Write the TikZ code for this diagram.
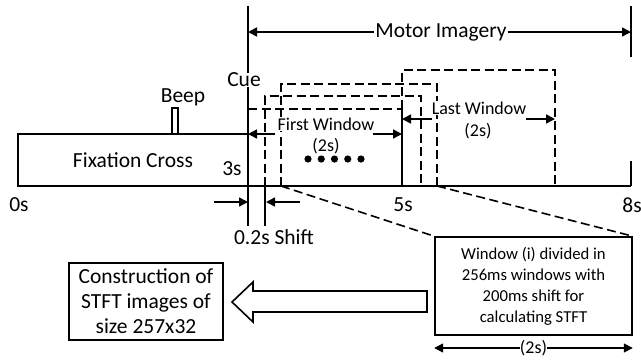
\documentclass[tikz,border=0pt]{standalone}
\usepackage{fontspec}
\setmainfont{Carlito}
\usetikzlibrary{arrows.meta}
\tikzset{
  edge/.style={line width=1.6pt},
  win/.style={line width=1.6pt, dash pattern=on 9pt off 4.5pt},
  flow/.style={-{Triangle[length=9pt, width=9pt]}, line width=1.6pt},
  big/.style={font=\fontsize{21.5}{25}\selectfont, inner sep=1pt},
  small/.style={font=\fontsize{18}{21}\selectfont, inner sep=1pt, fill=white},
  box/.style={draw, line width=1.6pt, align=center, inner sep=0pt},
}

\begin{document}
\begin{tikzpicture}[x=1pt, y=-1pt]
    \useasboundingbox (0,0) rectangle (641,360);
    \coordinate (cueTop) at (248,6);
    \coordinate (cueEnd) at (248,226);
    \coordinate (shiftTop) at (265,186);
    \coordinate (shiftEnd) at (265,226);
    \coordinate (start) at (18,186);
    \coordinate (stop) at (631,186);
    \coordinate (miL) at (248,32);
    \coordinate (miR) at (631,32);
    \coordinate (endTop) at (631,6);
    \coordinate (endMid) at (631,57);
    \coordinate (endLow) at (631,161);
    \coordinate (fwL) at (248,134);
    \coordinate (fwR) at (402,134);
    \coordinate (lwL) at (402,119);
    \coordinate (lwR) at (555,119);
    \coordinate (shL) at (248,202);
    \coordinate (shR) at (266,202);
    \coordinate (w3L) at (281,186);
    \coordinate (w3R) at (437,186);
    \coordinate (tip) at (232,302);
    \draw[edge] (cueTop) -- (cueEnd);
    \draw[edge] (shiftTop) -- (shiftEnd);
    \draw[edge] (start) -- (stop);
    \draw[edge] (endTop) -- (endMid);
    \draw[edge] (endLow) -- (stop);
    \draw[win] (248,109) -- (402,109);
    \draw[edge] (402,109) -- (402,186);
    \draw[win] (shiftTop) -- (265,96) -- (421,96) -- (421,186);
    \draw[win] (w3L) -- (281,84) -- (437,84) -- (w3R);
    \draw[win] (402,109) -- (402,70) -- (555,70) -- (555,186);
    \node[box, minimum width=230pt, minimum height=52pt, big] (fix) at (133,160) {Fixation Cross};
    \node[box, minimum width=6pt, minimum height=26pt] (beepbar) at (175,121) {};
    \node[big] (beep) at (183,97) {Beep};
    \node[big, fill=white, inner sep=0pt] (cue) at (244,80) {Cue};
    \node[big] (three) at (232,169) {3s};
    \node[big] (zero) at (19,205) {0s};
    \node[big] (five) at (403,205) {5s};
    \node[big] (eight) at (632,205) {8s};
    \node[big, fill=white] (mi) at (441,32) {Motor Imagery};
    \node[small] (fw) at (326,124) {First Window};
    \node[small] (fwlen) at (326,146) {(2s)};
    \node[small] (lw) at (479,108) {Last Window};
    \node[small] (lwlen) at (478,131) {(2s)};
    \node[big] (shift) at (274,237) {0.2s Shift};
    \node[box, minimum width=154pt, minimum height=77pt, font=\fontsize{21.5}{25}\selectfont] (stft) at (146,301.5) {Construction of\\STFT images of\\size 257x32};
    \node[box, minimum width=197pt, minimum height=98pt, font=\fontsize{16.7}{21}\selectfont] (divide) at (533.5,286) {Window (i) divided in\\256ms windows with\\200ms shift for\\calculating STFT};
    \node[small, inner sep=0pt] (boxlen) at (533.5,348) {(2s)};
    \draw[flow] (mi) -- (miL);
    \draw[flow] (mi) -- (miR);
    \draw[flow] (275,134) -- (fwL);
    \draw[flow] (373,134) -- (fwR);
    \draw[flow] (432,119) -- (lwL);
    \draw[flow] (526,119) -- (lwR);
    \draw[flow] (214,202) -- (shL);
    \draw[flow] (300,202) -- (shR);
    \foreach \i in {0,...,4}
        \fill (308+13.25*\i,159) circle (3.6pt);
    \draw[win] (w3L) -- (divide.north west);
    \draw[win] (w3R) -- (divide.north east);
    \draw[flow] (boxlen) -- (divide.south west |- boxlen);
    \draw[flow] (boxlen) -- (divide.south east |- boxlen);
    \draw[edge] (427,291) -- (253,291) -- (253,282) -- (tip) -- (253,322) -- (253,312) -- (427,312) -- cycle;
\end{tikzpicture}
\end{document}
